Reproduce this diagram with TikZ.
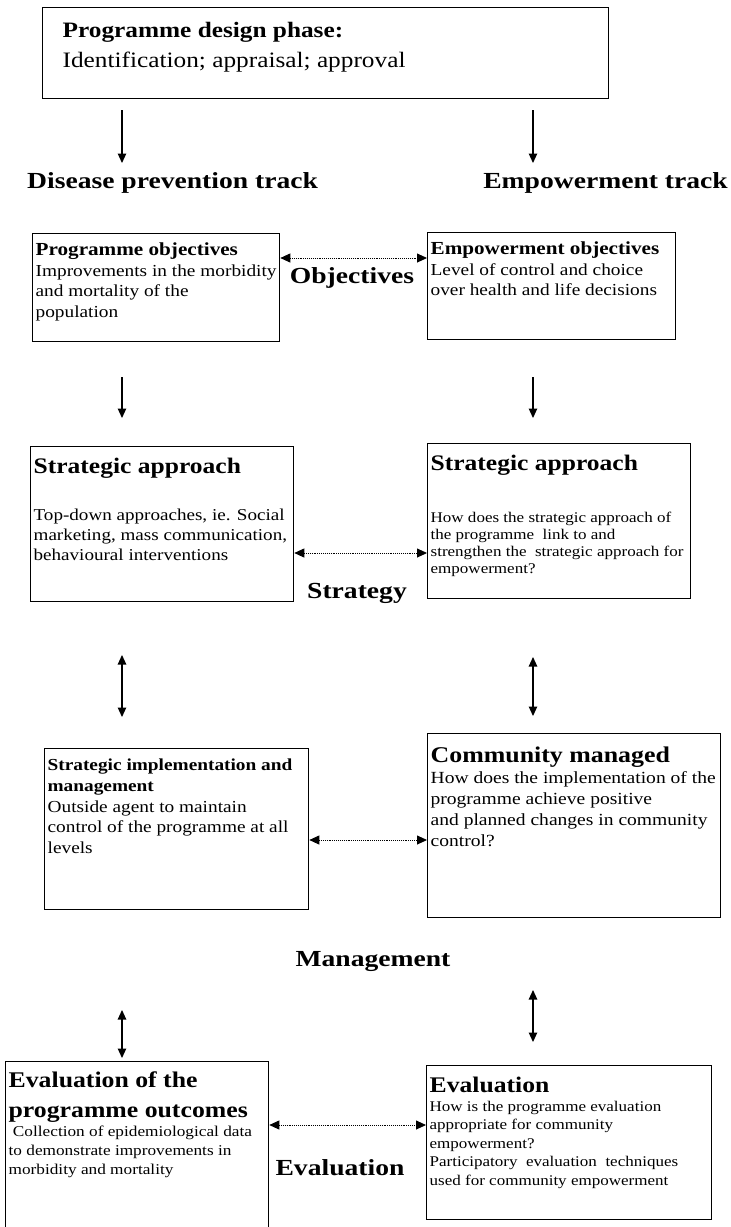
\documentclass[tikz,border=0pt]{standalone}
\usepackage{fontspec}
\setmainfont[FakeStretch=1.15]{Liberation Serif}
\newfontfamily\phasefont[FakeStretch=1.2]{Liberation Serif}
\usetikzlibrary{arrows.meta}

\newcommand{\fs}[2]{\fontsize{#1}{#2}\selectfont}
% box text: inner width, height, content (top aligned)
\newcommand{\boxtext}[3]{\parbox[c][#2pt][t]{#1pt}{\raggedright #3}}

\begin{document}
\begin{tikzpicture}[x=1pt, y=-1pt, >={Triangle[width=8.5pt,length=9.5pt]},
    box/.style={draw, line width=1.3pt, anchor=north west, inner xsep=3pt, inner ysep=0pt},
    phase/.style={inner sep=0pt, font=\phasefont\bfseries\fs{23}{26}},
    flow/.style={line width=1.1pt},
    link/.style={{Triangle[width=9pt,length=10pt]}-{Triangle[width=9pt,length=10pt]}, line width=0.9pt, dash pattern=on 0.9pt off 1pt}]

                \useasboundingbox (0,0) rectangle (731,1227);
                \clip (0,0) rectangle (731,1227);

                % design phase
                \node[box] (design) at (42,7) {\boxtext{560}{91}{\leftskip=17pt\fs{22}{30}\rule{0pt}{30pt}\textbf{Programme design phase:}\par
                    Identification; appraisal; approval}};
                \node[phase, anchor=base west] (dpt) at (27,188) {Disease prevention track};
                \node[phase, anchor=base east] (et) at (728,188) {Empowerment track};

                % objectives
                \node[box] (po) at (32,233) {\boxtext{241}{108}{\fs{18.4}{22}\rule{0pt}{22pt}\textbf{Programme objectives}\par
                    \fs{16.8}{20.5}Improvements in the morbidity\\ and mortality of the\\ population}};
                \node[box] (eo) at (427,232) {\boxtext{242}{107}{\fs{18.4}{22}\rule{0pt}{22pt}\textbf{Empowerment objectives}\par
                    \fs{16.8}{20.5}Level of control and choice\\ over health and life decisions}};
                \node[phase, anchor=base] (obj) at (352,283) {Objectives};

                % strategy
                \node[box] (sa1) at (30,446) {\boxtext{257}{155}{\fs{22.2}{26}\rule{0pt}{27pt}\textbf{Strategic approach}\par\vspace{27pt}
                    \fs{16.6}{20}Top-down approaches, ie. Social\\ marketing, mass communication,\\ behavioural interventions}};
                \node[box] (sa2) at (427,443) {\boxtext{257}{155}{\fs{22.2}{26}\rule{0pt}{27pt}\textbf{Strategic approach}\par\vspace{35pt}
                    \fs{14.8}{17}How does the strategic approach of\\ the programme\ \ link to and\\ strengthen the\ \ strategic approach for\\ empowerment?}};
                \node[phase, anchor=base] (str) at (357,598) {Strategy};

                % management
                \node[box] (sim) at (44,748) {\boxtext{258}{161}{\fs{16.8}{20.7}\rule{0pt}{22pt}\textbf{Strategic implementation and}\\ \textbf{management}\\
                    Outside agent to maintain\\ control of the programme at all\\ levels}};
                \node[box] (cm) at (427,733) {\boxtext{287}{184}{\fs{22.5}{26}\rule{0pt}{29pt}\textbf{Community managed}\par
                    \fs{17}{21}How does the implementation of the\\ programme achieve positive\\ and planned changes in community\\ control?}};
                \node[phase, anchor=base] (man) at (373,966) {Management};

                % evaluation
                \node[box] (ev1) at (5,1061) {\boxtext{257}{200}{\fs{22.4}{30}\rule{0pt}{26pt}\textbf{Evaluation of the}\\ \textbf{programme outcomes}\par
                    \fs{15}{19}\ Collection of epidemiological data\\ to demonstrate improvements in\\ morbidity and mortality}};
                \node[box] (ev2) at (426,1065) {\boxtext{279}{154}{\fs{22.3}{26}\rule{0pt}{27pt}\textbf{Evaluation}\par
                    \fs{14.8}{18.5}How is the programme evaluation\\ appropriate for community\\ empowerment?\\ Participatory\ \ evaluation\ \ techniques\\ used for community empowerment}};
                \node[phase, anchor=base] (evl) at (340,1175) {Evaluation};

                % arrow ends
                \coordinate (pl1) at (122,110); \coordinate (pl2) at (122,163);
                \coordinate (pr1) at (533,110); \coordinate (pr2) at (533,163);
                \coordinate (ol1) at (122,377); \coordinate (ol2) at (122,418);
                \coordinate (or1) at (533,377); \coordinate (or2) at (533,418);
                \coordinate (sl1) at (122,655); \coordinate (sl2) at (122,717);
                \coordinate (sr1) at (533,657); \coordinate (sr2) at (533,716);
                \coordinate (ml1) at (122,1010); \coordinate (ml2) at (122,1058);
                \coordinate (mr1) at (533,990); \coordinate (mr2) at (533,1042);

                \path[->, flow] (pl1) edge (pl2) (pr1) edge (pr2);
                \path[->, flow] (ol1) edge (ol2) (or1) edge (or2);
                \path[<->, flow] (sl1) edge (sl2) (sr1) edge (sr2);
                \path[<->, flow] (ml1) edge (ml2) (mr1) edge (mr2);

                % dotted links between the tracks
                \coordinate (lv1) at (0,258);
                \coordinate (lv2) at (0,553);
                \coordinate (lv3) at (0,840);
                \coordinate (lv4) at (0,1125);
                \path[link] (po.east |- lv1) edge (eo.west |- lv1);
                \path[link] (sa1.east |- lv2) edge (sa2.west |- lv2);
                \path[link] (sim.east |- lv3) edge (cm.west |- lv3);
                \path[link] (ev1.east |- lv4) edge (ev2.west |- lv4);
            \end{tikzpicture}
\end{document}
